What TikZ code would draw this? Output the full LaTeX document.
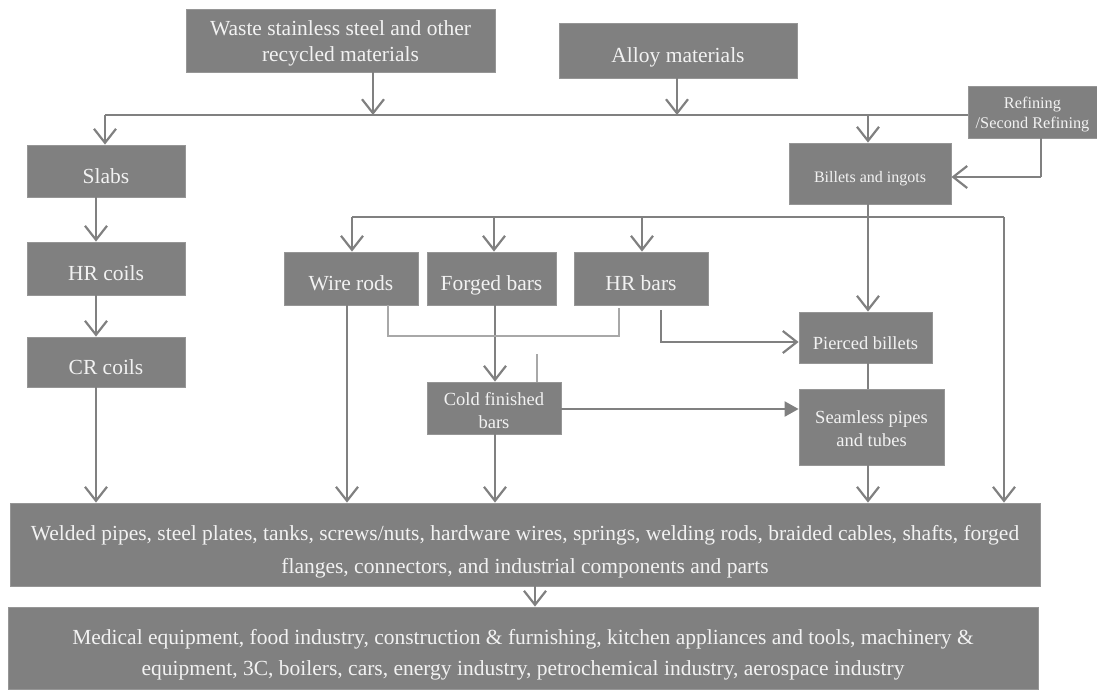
\documentclass[tikz,border=0pt]{standalone}
\usepackage{fontspec}
\setmainfont{Liberation Serif}
\usetikzlibrary{arrows.meta,calc}
\definecolor{boxgray}{RGB}{128,128,128}
\definecolor{boxedge}{RGB}{150,150,150}
\definecolor{linegray}{RGB}{128,128,128}
\definecolor{thingray}{RGB}{168,168,168}
\definecolor{textwhite}{RGB}{242,242,242}
\tikzset{
  box/.style={fill=boxgray, draw=boxedge, line width=0.8pt, text=textwhite,
    align=center, inner sep=0pt, font=\fontsize{21.5}{26.5}\selectfont},
  oneline/.style={text height=#1, text depth=0pt},
  oneline/.default=24.7pt,
  conn/.style={draw=linegray, line width=2.2pt},
  arr/.style={conn, -{Straight Barb[length=14pt,width=22pt,line width=2.2pt]}},
  tri/.style={conn, -{Triangle[length=14pt,width=15pt]}},
  thinline/.style={draw=thingray, line width=1.6pt},
}
\begin{document}
\begin{tikzpicture}[x=1pt,y=-1pt]
\useasboundingbox (0,0) rectangle (1097,689);
% boxes
\node[box, minimum width=309pt, minimum height=63pt] (waste) at (340.5,40.5) {\rule{0pt}{21pt}Waste stainless steel and other\\recycled materials};
\node[box, oneline, minimum width=238pt, minimum height=55pt] (alloy) at (678,50.5) {Alloy materials};
\node[box, minimum width=129pt, minimum height=52pt, font=\fontsize{16.3}{20}\selectfont] (refin) at (1032.5,112) {\rule{0pt}{17pt}Refining\\/Second Refining};
\node[box, oneline, minimum width=158pt, minimum height=52pt] (slabs) at (106,171) {Slabs};
\node[box, oneline=18.4pt, minimum width=162pt, minimum height=61pt, font=\fontsize{16}{20}\selectfont] (billets) at (870,173.5) {Billets and ingots};
\node[box, oneline, minimum width=158pt, minimum height=53pt] (hrcoils) at (106,268.5) {HR coils};
\node[box, oneline, minimum width=158pt, minimum height=50pt] (crcoils) at (106,362) {CR coils};
\node[box, oneline, minimum width=134pt, minimum height=53pt] (wire) at (351,278.5) {Wire rods};
\node[box, oneline, minimum width=129pt, minimum height=53pt] (forged) at (491.5,278.5) {Forged bars};
\node[box, oneline, minimum width=134pt, minimum height=53pt] (hrbars) at (641,278.5) {HR bars};
\node[box, oneline=23pt, minimum width=133pt, minimum height=51pt, font=\fontsize{18.5}{23}\selectfont] (pierced) at (865.5,337.5) {Pierced billets};
\node[box, minimum width=134pt, minimum height=52pt, font=\fontsize{18.5}{23}\selectfont] (cold) at (494,408) {\rule{0pt}{19pt}Cold finished\\bars};
\node[box, minimum width=145pt, minimum height=76pt, font=\fontsize{18.5}{23}\selectfont] (seamless) at (871.5,427) {\rule{0pt}{17pt}Seamless pipes\\and tubes};
\node[box, minimum width=1030pt, minimum height=83pt, font=\fontsize{21.5}{33}\selectfont] (welded) at (525,544.5) {\rule{0pt}{29pt}Welded pipes, steel plates, tanks, screws/nuts, hardware wires, springs, welding rods, braided cables, shafts, forged\\flanges, connectors, and industrial components and parts};
\node[box, minimum width=1030pt, minimum height=82pt, font=\fontsize{21.5}{31}\selectfont] (medical) at (523,648) {\rule{0pt}{29pt}Medical equipment, food industry, construction \& furnishing, kitchen appliances and tools, machinery \&\\equipment, 3C, boilers, cars, energy industry, petrochemical industry, aerospace industry};
% junction coordinates
\coordinate (mainL) at (105,115);
\coordinate (distL) at (352,217);
\coordinate (distR) at (1004,217);
% top inputs
\draw[arr] (waste.south -| 373,0) -- (373,115);
\draw[arr] (alloy.south -| 677,0) -- (677,115);
\draw[conn] (mainL) -- (refin.west |- mainL);
\draw[arr] (mainL) -- (slabs.north -| mainL);
\draw[arr] (868,115) -- (billets.north -| 868,0);
\draw[conn] (refin.south -| 1041,0) -- (1041,177) coordinate (rbend);
\draw[arr] (rbend) -- (billets.east |- rbend);
% left column
\draw[arr] (slabs.south -| 96,0) -- (hrcoils.north -| 96,0);
\draw[arr] (hrcoils.south -| 96,0) -- (crcoils.north -| 96,0);
\draw[arr] (crcoils.south -| 96,0) -- (welded.north -| 96,0);
% billets distribution
\draw[arr] (billets.south -| 868,0) -- (pierced.north -| 868,0);
\draw[conn] (distL) -- (distR);
\draw[arr] (distL) -- (wire.north -| distL);
\draw[arr] (494,217) -- (forged.north -| 494,0);
\draw[arr] (642,217) -- (hrbars.north -| 642,0);
\draw[arr] (distR) -- (welded.north -| distR);
% middle
\draw[arr] (wire.south -| 347,0) -- (welded.north -| 347,0);
\draw[arr] (forged.south -| 495,0) -- (cold.north -| 495,0);
\draw[arr] (cold.south -| 495,0) -- (welded.north -| 495,0);
\draw[thinline] (wire.south -| 388,0) -- (388,336) -- (619,336) -- (619,308);
\draw[thinline] (537,354) -- (cold.north -| 537,0);
\draw[arr] ($(hrbars.south -| 661,0)+(0,5)$) -- (661,342) -- (pierced.west |- 0,342);
\draw[conn] (pierced.south -| 868,0) -- (seamless.north -| 868,0);
\draw[tri] (cold.east |- 0,409) -- (seamless.west |- 0,409);
\draw[arr] (seamless.south -| 868,0) -- (welded.north -| 868,0);
\draw[arr] (welded.south -| 535,0) -- (medical.north -| 535,0);
\end{tikzpicture}
\end{document}
